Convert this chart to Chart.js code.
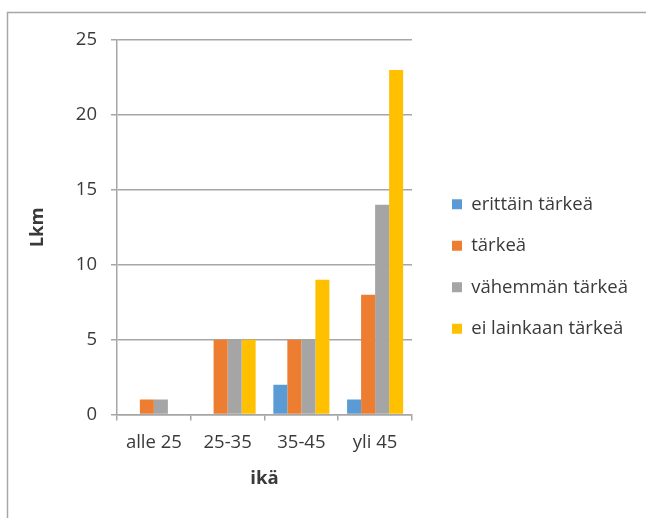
<!DOCTYPE html>
<html>
<head>
<meta charset="utf-8">
<script src="https://cdn.jsdelivr.net/npm/chart.js@4"></script>
<style>
html,body{margin:0;padding:0;background:#fff;}
#wrap{width:646px;height:518px;position:relative;}
</style>
</head>
<body>
<div id="wrap"><canvas id="c" width="646" height="518"></canvas></div>
<script>
const categories = ["alle 25", "25-35", "35-45", "yli 45"];
const seriesNames = ["erittäin tärkeä", "tärkeä", "vähemmän tärkeä", "ei lainkaan tärkeä"];
const erittainTarkea = [0, 0, 2, 1];
const tarkea = [1, 5, 5, 8];
const vahemmanTarkea = [1, 5, 5, 14];
const eiLainkaanTarkea = [0, 5, 9, 23];
const yTicks = [0, 5, 10, 15, 20, 25];
const yTitle = "Lkm";
const xTitle = "ikä";
const colors = ["#5B9BD5", "#ED7D31", "#A5A5A5", "#FFC000"];

const seriesValues = [erittainTarkea, tarkea, vahemmanTarkea, eiLainkaanTarkea];
const FONT = "'Open Sans', sans-serif";
const FS = 18.5;
const TXT = "#3a3a3a";
const GRID = "#A6A6A6";

const framePlugin = {
  id: 'frame',
  beforeDraw(chart) {
    const ctx = chart.ctx;
    ctx.save();
    ctx.fillStyle = '#fff';
    ctx.fillRect(0, 0, chart.width, chart.height);
    ctx.strokeStyle = '#A6A6A6';
    ctx.lineWidth = 1.5;
    ctx.beginPath();
    ctx.moveTo(7.5, chart.height + 2);
    ctx.lineTo(7.5, 12.5);
    ctx.lineTo(chart.width + 2, 12.5);
    ctx.stroke();
    ctx.restore();
  }
};

new Chart(document.getElementById('c'), {
  type: 'bar',
  data: {
    labels: categories,
    datasets: seriesNames.map((n, i) => ({
      label: n,
      data: seriesValues[i],
      backgroundColor: colors[i],
      borderWidth: 0,
      categoryPercentage: 0.76,
      barPercentage: 1.0
    }))
  },
  options: {
    responsive: false,
    animation: false,
    devicePixelRatio: 1,
    layout: { padding: { left: 20, top: 40, right: 8, bottom: 25 } },
    plugins: {
      legend: {
        position: 'right',
        align: 'center',
        maxWidth: 300,
        labels: {
          boxWidth: 10,
          boxHeight: 10,
          padding: 23,
          color: TXT,
          font: { family: FONT, size: FS }
        }
      },
      tooltip: { enabled: false }
    },
    scales: {
      x: {
        offset: true,
        grid: { display: true, drawOnChartArea: false, drawTicks: true, tickLength: 6, offset: true, color: GRID, lineWidth: 1.5 },
        border: { display: true, color: GRID, width: 1.5 },
        ticks: { color: TXT, font: { family: FONT, size: FS }, padding: 11, maxRotation: 0 },
        title: { display: true, text: xTitle, color: TXT, font: { family: FONT, size: FS, weight: 'bold' }, padding: { top: 3, bottom: 3 } }
      },
      y: {
        min: 0,
        max: 25,
        afterBuildTicks(scale) { scale.ticks = yTicks.map(v => ({ value: v })); },
        afterFit(scale) { scale.width = 97; },
        grid: { display: true, drawTicks: true, tickLength: 6, color: GRID, lineWidth: 1.5 },
        border: { display: true, color: GRID, width: 1.5 },
        ticks: { color: TXT, font: { family: FONT, size: FS }, padding: 14 },
        title: { display: true, text: yTitle, color: TXT, font: { family: FONT, size: FS, weight: 'bold' }, padding: { top: 7, bottom: 18 } }
      },
      y2: {
        position: 'right',
        display: true,
        grid: { display: false, drawTicks: false },
        border: { display: false },
        ticks: { display: false },
        afterFit(scale) { scale.width = 17; }
      }
    }
  },
  plugins: [framePlugin]
});
</script>
</body>
</html>
